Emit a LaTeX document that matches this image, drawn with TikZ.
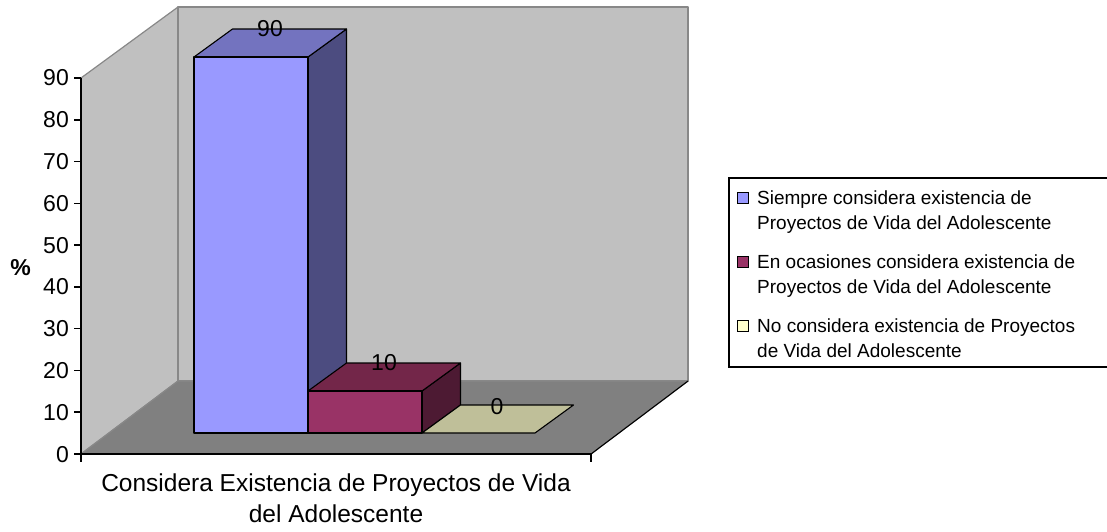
\documentclass[tikz,border=0pt]{standalone}
\usepackage{fontspec}
\setmainfont{Liberation Sans}
\definecolor{wallc}{HTML}{C0C0C0}
\definecolor{floorc}{HTML}{808080}
\definecolor{edgec}{HTML}{888888}
\definecolor{blueF}{HTML}{9999FF}
\definecolor{blueT}{HTML}{7373BF}
\definecolor{blueS}{HTML}{4C4C80}
\definecolor{marF}{HTML}{993366}
\definecolor{marT}{HTML}{732649}
\definecolor{marS}{HTML}{4D1A33}
\definecolor{yelT}{HTML}{BFBF99}
\definecolor{yelL}{HTML}{FFFFCC}
\begin{document}
\begin{tikzpicture}[x=1pt,y=-1pt,
  wall/.style={fill=wallc,draw=edgec,line width=1.2pt,line join=round},
  floorface/.style={fill=floorc,draw=edgec,line width=1.2pt,line join=round},
  face/.style={draw=black,line width=1.1pt,line join=round},
  axisline/.style={draw=black,line width=1.5pt},
  ticklab/.style={anchor=base east,inner sep=0pt,font=\fontsize{23}{27}\selectfont},
  barlab/.style={anchor=base,inner sep=0pt,font=\fontsize{23}{27}\selectfont},
  xlab/.style={anchor=base,inner sep=0pt,font=\fontsize{24.5}{29}\selectfont},
  legtext/.style={anchor=base west,inner sep=0pt,font=\fontsize{19}{25}\selectfont},
  swatch/.style={draw=black,line width=0.9pt,minimum size=11pt,inner sep=0pt}]
\useasboundingbox (0,0) rectangle (1107,531);
% walls and floor
\path[wall] (81,454) -- (81,78) -- (178,7) -- (178,381) -- cycle;
\path[wall] (178,7) -- (688,7) -- (688,381) -- (178,381) -- cycle;
\path[floorface] (81,454) -- (178,381) -- (688,381) -- (591,454) -- cycle;
\draw[black,line width=1.1pt] (591,454) -- (688,381);
% blue bar (90)
\path[face,fill=blueS] (308,57) -- (346.5,29) -- (346.5,405) -- (308,433) -- cycle;
\path[face,fill=blueT] (194,57) -- (308,57) -- (346.5,29) -- (232.5,29) -- cycle;
\path[face,fill=blueF] (194,57) rectangle (308,433);
% maroon bar (10)
\path[face,fill=marS] (422,391) -- (460.5,363) -- (460.5,405) -- (422,433) -- cycle;
\path[face,fill=marT] (308,391) -- (422,391) -- (460.5,363) -- (346.5,363) -- cycle;
\path[face,fill=marF] (308,391) rectangle (422,433);
% yellow (0)
\path[face,fill=yelT] (422,433) -- (535,433) -- (573.5,405) -- (460.5,405) -- cycle;
% value labels
\node[barlab] (v90) at (270,36) {90};
\node[barlab] (v10) at (384,370) {10};
\node[barlab] (v0) at (497,414) {0};
% axes
\draw[axisline] (81,78) -- (81,462);
\draw[axisline] (81,454) -- (591,454);
\draw[axisline] (591,454) -- (591,462);
\foreach \k/\lab in {0/0,1/10,2/20,3/30,4/40,5/50,6/60,7/70,8/80,9/90}{
  \draw[axisline] (74,454-\k*41.78) -- (81,454-\k*41.78);
  \node[ticklab] (t\k) at (69,462-\k*41.78) {\lab};
}
\node[anchor=base,inner sep=0pt,font=\fontsize{23}{27}\selectfont\bfseries] (pct) at (20.5,275) {\%};
\node[xlab] (xl1) at (336,491) {Considera Existencia de Proyectos de Vida};
\node[xlab] (xl2) at (336,522) {del Adolescente};
% legend
\draw[black,line width=1.2pt] (729,178) rectangle (1109,367);
\node[swatch,fill=blueF] (s1) at (742.5,197.5) {};
\node[swatch,fill=marF] (s2) at (742.5,261.5) {};
\node[swatch,fill=yelL] (s3) at (742.5,325.5) {};
\node[legtext] (l1a) at (757,204.5) {Siempre considera existencia de};
\node[legtext] (l1b) at (757,229.5) {Proyectos de Vida del Adolescente};
\node[legtext] (l2a) at (757,268.5) {En ocasiones considera existencia de};
\node[legtext] (l2b) at (757,293.5) {Proyectos de Vida del Adolescente};
\node[legtext] (l3a) at (757,332.5) {No considera existencia de Proyectos};
\node[legtext] (l3b) at (757,357.5) {de Vida del Adolescente};
\end{tikzpicture}
\end{document}
